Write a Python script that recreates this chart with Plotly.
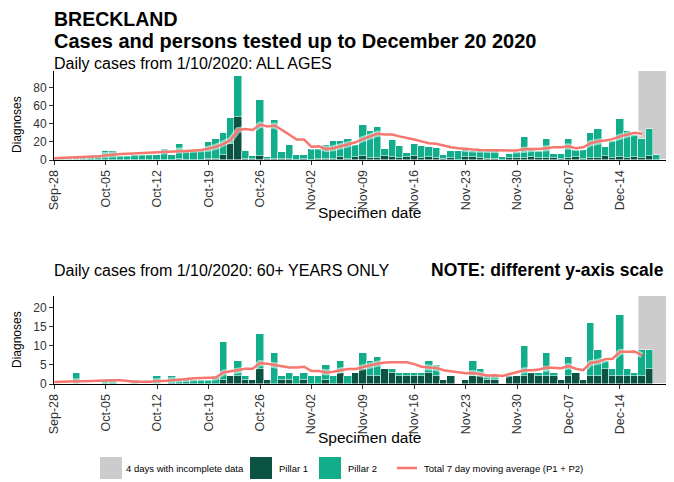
import plotly.graph_objects as go
import pandas as pd

# specimen dates (Sep 28 - Dec 20 2020)
dates = pd.date_range("2020-09-28", "2020-12-20", freq="D")

# ALL AGES - pillar 1 / pillar 2 daily cases
all_p1 = [0, 0, 0, 0, 0, 0, 0, 0, 0, 0, 0, 0, 0, 0, 0, 0, 0, 1, 0, 0, 0, 1, 1, 6, 18, 47, 1, 1,
          4, 1, 1, 1, 1, 0, 1, 0, 1, 1, 1, 3, 1, 3, 4, 2, 2, 4, 3, 2, 3, 4, 2, 3, 2, 1, 2, 0,
          3, 3, 2, 1, 1, 0, 2, 2, 2, 3, 2, 2, 2, 1, 2, 3, 1, 2, 2, 4, 2, 3, 2, 3, 2, 4, 0, 0]
all_p2 = [2, 1, 3, 2, 3, 3, 4, 10, 10, 4, 4, 5, 5, 5, 6, 12, 6, 17, 9, 10, 11, 19, 22, 24, 28, 45, 9, 3,
          62, 2, 43, 8, 15, 6, 5, 12, 11, 16, 20, 18, 22, 13, 35, 30, 34, 8, 19, 13, 5, 14, 13, 11, 11, 4, 8, 10,
          8, 7, 8, 9, 9, 3, 5, 7, 23, 8, 8, 21, 5, 6, 21, 8, 10, 28, 32, 10, 19, 42, 30, 24, 21, 30, 6, 0]
all_avg = [2.0, 2.3, 2.6, 3.0, 3.2, 3.5, 4.0, 5.0, 6.0, 6.5, 7.0, 7.3, 7.5, 7.8, 8.0, 8.3, 8.5, 9.5,
           10.0, 10.5, 11.0, 12.5, 14.5, 17.5, 22.0, 33.0, 34.0, 33.0, 39.0, 37.0, 38.0, 33.0, 28.0,
           22.5, 22.5, 14.5, 15.0, 12.0, 13.0, 15.0, 17.0, 19.5, 23.0, 26.0, 29.0, 28.0, 28.0, 26.0,
           24.5, 22.5, 20.5, 18.5, 17.8, 15.6, 14.0, 13.0, 12.0, 11.5, 11.0, 11.0, 11.0, 10.7, 10.4,
           10.4, 12.0, 12.0, 12.0, 13.0, 14.0, 14.0, 15.0, 13.0, 14.0, 18.5, 20.7, 21.5, 23.0, 26.0,
           28.0, 30.0, 29.0]

# 60+ YEARS ONLY
old_p1 = [0, 0, 0, 0, 0, 0, 0, 0, 0, 0, 0, 0, 0, 0, 0, 0, 0, 0, 0, 0, 0, 0, 0, 1, 2, 2, 1, 1,
          4, 1, 0, 1, 1, 0, 1, 0, 0, 1, 0, 3, 0, 3, 4, 2, 2, 4, 3, 2, 2, 2, 2, 3, 2, 1, 2, 0,
          1, 2, 2, 1, 1, 0, 2, 2, 2, 3, 2, 2, 2, 1, 2, 3, 1, 2, 2, 4, 2, 2, 2, 2, 2, 4, 0, 0]
old_p2 = [0, 0, 0, 3, 0, 0, 0, 1, 1, 0, 0, 1, 0, 0, 2, 0, 2, 1, 1, 1, 1, 1, 2, 10, 0, 4, 1, 0,
          9, 0, 8, 1, 2, 2, 2, 2, 2, 4, 2, 3, 2, 0, 4, 4, 5, 0, 1, 1, 1, 1, 1, 3, 3, 0, 0, 0,
          0, 4, 2, 1, 1, 0, 0, 0, 8, 0, 1, 6, 1, 0, 5, 0, 0, 14, 7, 2, 2, 16, 2, 1, 7, 5, 0, 0]
old_avg = [0.5, 0.6, 0.6, 0.7, 0.7, 0.8, 0.8, 1.0, 1.0, 1.0, 0.8, 0.6, 0.6, 0.6, 0.8, 0.8, 1.0, 1.1,
           1.3, 1.5, 1.6, 1.6, 1.7, 3.0, 3.3, 3.7, 4.0, 4.0, 5.5, 5.3, 4.9, 4.5, 4.3, 4.3, 4.5, 3.4,
           3.4, 3.0, 3.2, 3.6, 3.9, 3.9, 4.5, 4.9, 5.3, 5.6, 5.7, 5.7, 5.7, 5.2, 4.5, 4.3, 4.2, 3.6,
           3.3, 3.0, 2.8, 2.9, 2.6, 2.2, 2.3, 2.1, 2.6, 3.2, 3.6, 3.6, 3.8, 4.3, 4.2, 4.1, 4.7, 4.0,
           3.6, 5.5, 5.8, 6.5, 6.6, 8.4, 8.4, 8.5, 7.5]

incomplete_start = "2020-12-16 12:00"
incomplete_end = "2020-12-20 12:00"

P1_COL = "#0b5343"
P2_COL = "#12ad8a"
AVG_COL = "#F8766D"
GREY = "#cccccc"
FONT = "Liberation Sans, Arial, sans-serif"
# the page body keeps its default 8px margin, so the figure is drawn 8px in
OFF = 8
W, H = 674 - OFF, 482 - OFF
DAY_MS = 86400000

fig = go.Figure()

panels = [("x", "y", all_p1, all_p2, all_avg), ("x2", "y2", old_p1, old_p2, old_avg)]
for xa, ya, p1, p2, avg in panels:
    fig.add_trace(go.Bar(x=dates, y=p1, xaxis=xa, yaxis=ya, width=DAY_MS, name="Pillar 1",
                         marker=dict(color=P1_COL, line=dict(color="white", width=0.5))))
    fig.add_trace(go.Bar(x=dates, y=p2, xaxis=xa, yaxis=ya, width=DAY_MS, name="Pillar 2",
                         marker=dict(color=P2_COL, line=dict(color="white", width=0.5))))
    # pale halo under the average line
    fig.add_trace(go.Scatter(x=dates[:len(avg)], y=avg, xaxis=xa, yaxis=ya, mode="lines",
                             line=dict(color="rgba(255,255,255,0.55)", width=6), hoverinfo="skip"))
    fig.add_trace(go.Scatter(x=dates[:len(avg)], y=avg, xaxis=xa, yaxis=ya, mode="lines",
                             name="Total 7 day moving average (P1 + P2)",
                             line=dict(color=AVG_COL, width=2.5)))
    fig.add_shape(type="rect", xref=xa, yref=ya + " domain", x0=incomplete_start, x1=incomplete_end,
                  y0=0, y1=1, fillcolor=GREY, line_width=0, layer="below")


def px_y(py):
    return 1 - (py - OFF) / H


def px_x(pxx):
    return (pxx - OFF) / W


xaxis_common = dict(
    type="date", range=["2020-09-27 23:00", "2020-12-21 02:00"], automargin=False,
    tick0="2020-09-28", dtick=7 * DAY_MS, tickformat="%b-%d", tickangle=-90,
    ticks="outside", ticklen=4, tickcolor="#333", showline=True, linecolor="black", linewidth=1,
    showgrid=False, zeroline=False, tickfont=dict(family=FONT, size=12.5, color="#333"),
    domain=[px_x(54), px_x(672)],
)
yaxis_common = dict(
    ticks="outside", ticklen=4, tickcolor="#333", showline=True, linecolor="black", linewidth=1,
    showgrid=False, zeroline=False, automargin=False, tickfont=dict(family=FONT, size=12, color="#333"),
)

fig.update_layout(
    width=W, height=H, barmode="stack", bargap=0, showlegend=False,
    plot_bgcolor="white", paper_bgcolor="white",
    margin=dict(l=0, r=0, t=0, b=0, autoexpand=False),
    font=dict(family=FONT, color="black"),
    xaxis=dict(xaxis_common, anchor="y"),
    xaxis2=dict(xaxis_common, anchor="y2"),
    yaxis=dict(yaxis_common, anchor="x", range=[0, 98], tickvals=[0, 20, 40, 60, 80],
               domain=[px_y(160), px_y(71)]),
    yaxis2=dict(yaxis_common, anchor="x2", range=[0, 23], tickvals=[0, 5, 10, 15, 20],
                domain=[px_y(384), px_y(296)]),
)

texts = [
    ("BRECKLAND", 53, 19, 19.5, True),
    ("Cases and persons tested up to December 20 2020", 53, 41.5, 20, True),
    ("Daily cases from 1/10/2020: ALL AGES", 53, 63.5, 16, False),
    ("Daily cases from 1/10/2020: 60+ YEARS ONLY", 53, 270, 16, False),
    ("NOTE: different y-axis scale", 430, 270, 17.5, True),
]
for txt, x, y, size, bold in texts:
    fig.add_annotation(text=f"<b>{txt}</b>" if bold else txt, x=px_x(x), y=px_y(y),
                       xref="paper", yref="paper", xanchor="left", yanchor="middle",
                       showarrow=False, borderpad=0, font=dict(family=FONT, size=size, color="black"))

for y in (213, 437):
    fig.add_annotation(text="Specimen date", x=px_x(369), y=px_y(y), xref="paper", yref="paper",
                       xanchor="center", yanchor="middle", showarrow=False,
                       font=dict(family=FONT, size=15.5, color="black"))
for y in (125, 340):
    fig.add_annotation(text="Diagnoses", x=px_x(17), y=px_y(y), xref="paper", yref="paper",
                       xanchor="center", yanchor="middle", textangle=-90, showarrow=False,
                       font=dict(family=FONT, size=12, color="black"))

# legend drawn by hand at the bottom
legend_items = [
    ("rect", GREY, 100, "4 days with incomplete data", 125),
    ("rect", P1_COL, 250, "Pillar 1", 278),
    ("rect", P2_COL, 319, "Pillar 2", 347),
    ("line", AVG_COL, 397, "Total 7 day moving average (P1 + P2)", 423),
]
ly = 468
for kind, col, x0, label, tx in legend_items:
    if kind == "rect":
        fig.add_shape(type="rect", xref="paper", yref="paper", x0=px_x(x0), x1=px_x(x0 + 22),
                      y0=px_y(ly + 11), y1=px_y(ly - 11), fillcolor=col, line_width=0)
    else:
        fig.add_shape(type="line", xref="paper", yref="paper", x0=px_x(x0), x1=px_x(x0 + 20),
                      y0=px_y(ly), y1=px_y(ly), line=dict(color=col, width=2.5))
    fig.add_annotation(text=label, x=px_x(tx), y=px_y(ly), xref="paper", yref="paper",
                       xanchor="left", yanchor="middle", showarrow=False, borderpad=0,
                       font=dict(family=FONT, size=9.5, color="black"))

fig.write_html("out.html")
